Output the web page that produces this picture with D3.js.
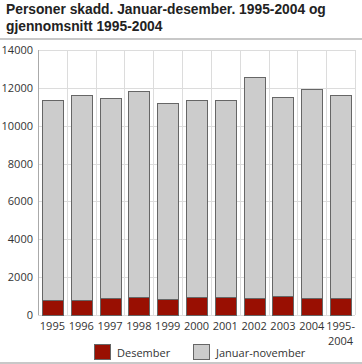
<!DOCTYPE html>
<html>
<head>
<meta charset="utf-8">
<script src="https://cdn.jsdelivr.net/npm/d3@7"></script>
<style>
  body { margin: 0; background: #fff; }
  text { font-family: "Open Sans", "DejaVu Sans", sans-serif; }
  text.title { font-family: "Liberation Sans", Arial, sans-serif; }
</style>
</head>
<body>
<svg width="362" height="364"></svg>
<script>
const years = ["1995", "1996", "1997", "1998", "1999", "2000", "2001", "2002", "2003", "2004", "1995-2004"]
const desember = [780, 790, 900, 950, 830, 935, 935, 880, 985, 880, 900]
const totals = [11340, 11600, 11450, 11820, 11220, 11340, 11340, 12560, 11500, 11920, 11600]
const janNov = totals.map((t, i) => t - desember[i])
const yTicks = [0, 2000, 4000, 6000, 8000, 10000, 12000, 14000]
const seriesNames = ["Desember", "Januar-november"]
const colors = ["#990f02", "#cccccc"]
const titleLines = ["Personer skadd. Januar-desember. 1995-2004 og", "gjennomsnitt 1995-2004"]

const svg = d3.select("svg"),
    plotLeft = 38, plotRight = 355, plotTop = 50, plotBottom = 315

// title, one text per line
svg.selectAll(".title")
    .data(titleLines)
    .enter()
    .append("text")
    .attr("class", "title")
    .attr("x", 6)
    .attr("y", (d, i) => 14 + i * 16.5)
    .attr("font-size", 13.8)
    .attr("font-weight", "bold")
    .attr("fill", "#222")
    .text(d => d)

svg.append("line")
    .attr("x1", 0).attr("x2", 362).attr("y1", 39).attr("y2", 39)
    .attr("stroke", "#c8c8c8").attr("stroke-width", 2)
svg.append("line")
    .attr("x1", 0).attr("x2", 362).attr("y1", 363).attr("y2", 363)
    .attr("stroke", "#c8c8c8").attr("stroke-width", 2)

const x = d3.scaleBand().domain(years).range([plotLeft, plotRight]).paddingInner(0.27).paddingOuter(0.135)
const xg = d3.scaleBand().domain(years).range([plotLeft, plotRight])
const y = d3.scaleLinear().domain([0, 14000]).range([plotBottom, plotTop])

// grid
svg.selectAll(".hgrid")
    .data(yTicks)
    .enter()
    .append("line")
    .attr("x1", plotLeft).attr("x2", plotRight)
    .attr("y1", d => Math.round(y(d)) + 0.5).attr("y2", d => Math.round(y(d)) + 0.5)
    .attr("stroke", "#dcdcdc")

svg.selectAll(".vgrid")
    .data(years.concat(["end"]))
    .enter()
    .append("line")
    .attr("x1", (d, i) => Math.round(plotLeft + i * xg.bandwidth()) + 0.5)
    .attr("x2", (d, i) => Math.round(plotLeft + i * xg.bandwidth()) + 0.5)
    .attr("y1", plotTop).attr("y2", plotBottom)
    .attr("stroke", (d, i) => i == 0 ? "#aaaaaa" : "#dcdcdc")

// stacked bars
const rows = years.map((yr, i) => ({ year: yr, Desember: desember[i], "Januar-november": janNov[i] }))
const stacked = d3.stack().keys(seriesNames)(rows)

svg.selectAll(".series")
    .data(stacked)
    .enter()
    .append("g")
    .attr("fill", (d, i) => colors[i])
    .selectAll("rect")
    .data(d => d)
    .enter()
    .append("rect")
    .attr("x", d => Math.round(x(d.data.year)) + 0.5)
    .attr("width", Math.round(x.bandwidth()))
    .attr("y", d => Math.round(y(d[1])) + 0.5)
    .attr("height", d => Math.round(y(d[0])) - Math.round(y(d[1])))
    .attr("stroke", "#666")
    .attr("stroke-width", 1)

// y axis labels
svg.selectAll(".ylab")
    .data(yTicks)
    .enter()
    .append("text")
    .attr("x", 33)
    .attr("y", d => y(d) + 4)
    .attr("text-anchor", "end")
    .attr("font-size", 11)
    .attr("fill", "#333")
    .text(d => d)

// x axis labels
svg.selectAll(".xlab")
    .data(years)
    .enter()
    .append("text")
    .attr("x", d => x(d) + x.bandwidth() / 2)
    .attr("y", 330)
    .attr("text-anchor", "middle")
    .attr("font-size", 11)
    .attr("fill", "#333")
    .each(function (d) {
        const parts = d.includes("-") ? [d.split("-")[0] + "-", d.split("-")[1]] : [d]
        d3.select(this).selectAll("tspan")
            .data(parts)
            .enter()
            .append("tspan")
            .attr("x", x(d) + x.bandwidth() / 2)
            .attr("dy", (p, i) => i == 0 ? 0 : 15)
            .text(p => p)
    })

// legend
const legendX = [94, 193]
seriesNames.forEach(function (name, i) {
    svg.append("rect")
        .attr("x", legendX[i] + 0.5).attr("y", 344.5)
        .attr("width", 16).attr("height", 15)
        .attr("fill", colors[i])
        .attr("stroke", "#666")
    svg.append("text")
        .attr("x", legendX[i] + 23)
        .attr("y", 357)
        .attr("font-size", 11)
        .attr("fill", "#333")
        .text(name)
})
</script>
</body>
</html>
